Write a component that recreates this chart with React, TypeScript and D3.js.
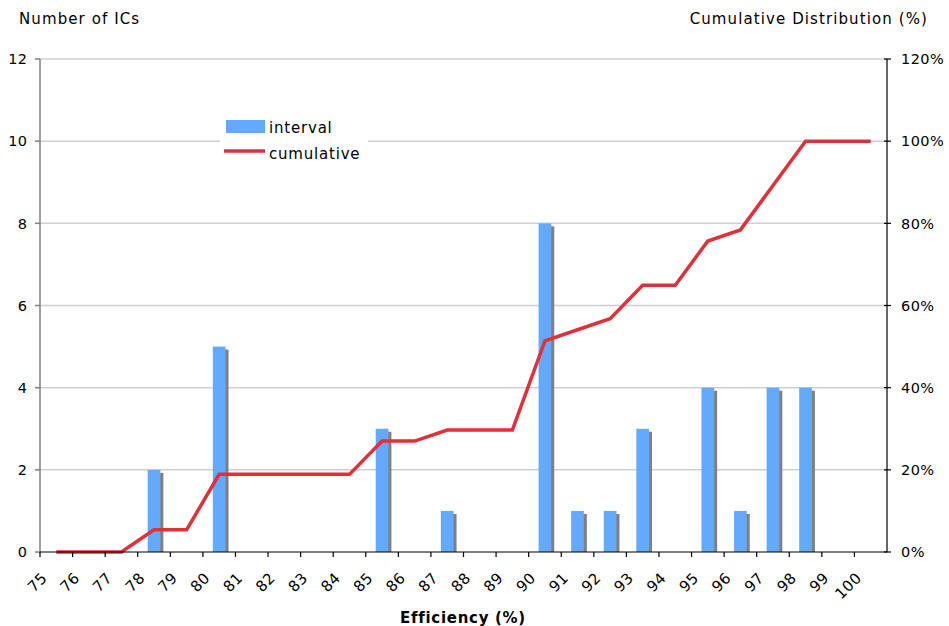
import React, { useEffect, useRef } from 'react';
import * as d3 from 'd3';

// Efficiency categories (%)
const categories = [75, 76, 77, 78, 79, 80, 81, 82, 83, 84, 85, 86, 87, 88, 89, 90, 91, 92, 93, 94, 95, 96, 97, 98, 99, 100];
// Number of ICs in each interval
const interval = [0, 0, 0, 2, 0, 5, 0, 0, 0, 0, 3, 0, 1, 0, 0, 8, 1, 1, 3, 0, 4, 1, 4, 4, 0, 0];
// Cumulative distribution (%)
const cumulative = [0, 0, 0, 5.4, 5.4, 18.9, 18.9, 18.9, 18.9, 18.9, 27.0, 27.0, 29.7, 29.7, 29.7, 51.4, 54.1, 56.8, 64.9, 64.9, 75.7, 78.4, 89.2, 100, 100, 100];
const leftTicks = [0, 2, 4, 6, 8, 10, 12];
const rightTicks = [0, 20, 40, 60, 80, 100, 120];

function App() {
    const d3Container = useRef<HTMLDivElement>(null);

    useEffect(() => {
        if (!d3Container.current) return;
        document.body.style.margin = '0';
        d3.select(d3Container.current).selectAll('*').remove();

        const W = 949, H = 626;
        const left = 40, right = 887, top = 59, bottom = 552;
        const font = 'DejaVu Sans, Verdana, sans-serif';
        const tickSize = 14.5;

        const svg = d3.select(d3Container.current)
            .append('svg')
            .attr('width', W)
            .attr('height', H)
            .style('display', 'block')
            .style('font-family', font);

        const x = d3.scaleBand<number>()
            .domain(categories)
            .range([left, right]);
        const yL = d3.scaleLinear().domain([0, 12]).range([bottom, top]);
        const yR = d3.scaleLinear().domain([0, 120]).range([bottom, top]);

        // gridlines
        svg.append('g')
            .selectAll('line')
            .data(leftTicks.filter(d => d > 0))
            .enter()
            .append('line')
            .attr('x1', left)
            .attr('x2', right)
            .attr('y1', d => yL(d))
            .attr('y2', d => yL(d))
            .attr('stroke', '#d0d0d0')
            .attr('stroke-width', 1.5);

        // bars with shadow
        const barW = 12.7;
        const barData = categories.map((c, i) => ({ c, v: interval[i] })).filter(d => d.v > 0);
        svg.append('g')
            .selectAll('rect')
            .data(barData)
            .enter()
            .append('rect')
            .attr('x', d => x(d.c)! + x.bandwidth() / 2 - barW / 2 + 3)
            .attr('y', d => yL(d.v) + 3)
            .attr('width', barW)
            .attr('height', d => bottom - yL(d.v) - 3)
            .attr('fill', '#808080');
        svg.append('g')
            .selectAll('rect')
            .data(barData)
            .enter()
            .append('rect')
            .attr('x', d => x(d.c)! + x.bandwidth() / 2 - barW / 2)
            .attr('y', d => yL(d.v))
            .attr('width', barW)
            .attr('height', d => bottom - yL(d.v))
            .attr('fill', '#63a9ff');

        // cumulative line
        const line = d3.line<number>()
            .x((d, i) => x(categories[i])! + x.bandwidth() / 2)
            .y(d => yR(d));
        svg.append('path')
            .datum(cumulative)
            .attr('d', line)
            .attr('fill', 'none')
            .attr('stroke', '#e0303a')
            .attr('stroke-width', 3.5)
            .attr('stroke-linejoin', 'miter');

        // left axis
        const gL = svg.append('g');
        gL.append('line')
            .attr('x1', left).attr('x2', left)
            .attr('y1', top).attr('y2', bottom)
            .attr('stroke', '#808080').attr('stroke-width', 1.5);
        gL.selectAll('line.tick')
            .data(leftTicks)
            .enter()
            .append('line')
            .attr('class', 'tick')
            .attr('x1', left - 5).attr('x2', left)
            .attr('y1', d => yL(d)).attr('y2', d => yL(d))
            .attr('stroke', '#808080').attr('stroke-width', 1.5);
        gL.selectAll('text')
            .data(leftTicks)
            .enter()
            .append('text')
            .attr('x', 27.5)
            .attr('y', d => yL(d) + 5.3)
            .attr('text-anchor', 'end')
            .attr('font-size', tickSize)
            .attr('letter-spacing', 0.4)
            .attr('fill', '#000')
            .text(d => d);

        // right axis
        const gR = svg.append('g');
        gR.append('line')
            .attr('x1', right).attr('x2', right)
            .attr('y1', top).attr('y2', bottom)
            .attr('stroke', '#000').attr('stroke-width', 1.2);
        gR.selectAll('line.tick')
            .data(rightTicks)
            .enter()
            .append('line')
            .attr('class', 'tick')
            .attr('x1', right - 3).attr('x2', right + 4)
            .attr('y1', d => yR(d)).attr('y2', d => yR(d))
            .attr('stroke', '#000').attr('stroke-width', 1.2);
        gR.selectAll('text')
            .data(rightTicks)
            .enter()
            .append('text')
            .attr('x', 901)
            .attr('y', d => yR(d) + 5.3)
            .attr('font-size', tickSize)
            .attr('letter-spacing', 0.4)
            .attr('fill', '#000')
            .text(d => d + '%');

        // bottom axis
        const gB = svg.append('g');
        gB.append('line')
            .attr('x1', left).attr('x2', right)
            .attr('y1', bottom).attr('y2', bottom)
            .attr('stroke', '#000').attr('stroke-width', 1.2);
        gB.selectAll('line.tick')
            .data(categories)
            .enter()
            .append('line')
            .attr('class', 'tick')
            .attr('x1', d => x(d)!).attr('x2', d => x(d)!)
            .attr('y1', bottom).attr('y2', bottom + 5)
            .attr('stroke', '#000').attr('stroke-width', 1.2);
        gB.selectAll('text')
            .data(categories)
            .enter()
            .append('text')
            .attr('transform', d => `translate(${x(d)! + 8},579) rotate(-45)`)
            .attr('text-anchor', 'end')
            .attr('font-size', 15)
            .attr('letter-spacing', 0.4)
            .attr('fill', '#000')
            .text(d => d);

        // axis titles
        svg.append('text')
            .attr('x', 19).attr('y', 23.5)
            .attr('font-size', 15)
            .attr('letter-spacing', 1.1)
            .text('Number of ICs');
        svg.append('text')
            .attr('x', 928).attr('y', 23.5)
            .attr('text-anchor', 'end')
            .attr('font-size', 15)
            .attr('letter-spacing', 1.1)
            .text('Cumulative Distribution (%)');
        svg.append('text')
            .attr('x', 463).attr('y', 623)
            .attr('text-anchor', 'middle')
            .attr('font-size', 15)
            .attr('font-weight', 'bold')
            .attr('letter-spacing', 0.7)
            .text('Efficiency (%)');

        // legend
        const lg = svg.append('g');
        lg.append('rect')
            .attr('x', 220).attr('y', 113)
            .attr('width', 148).attr('height', 52)
            .attr('fill', '#fff');
        lg.append('rect')
            .attr('x', 226).attr('y', 120)
            .attr('width', 39).attr('height', 13)
            .attr('fill', '#63a9ff');
        lg.append('line')
            .attr('x1', 224).attr('x2', 265)
            .attr('y1', 151).attr('y2', 151)
            .attr('stroke', '#e0303a').attr('stroke-width', 3.5);
        lg.append('text')
            .attr('x', 269).attr('y', 132.5)
            .attr('font-size', 15)
            .attr('letter-spacing', 0.8)
            .text('interval');
        lg.append('text')
            .attr('x', 269).attr('y', 158.5)
            .attr('font-size', 15)
            .attr('letter-spacing', 0.8)
            .text('cumulative');
    }, []);

    return <div ref={d3Container} />;
}

export default App;
